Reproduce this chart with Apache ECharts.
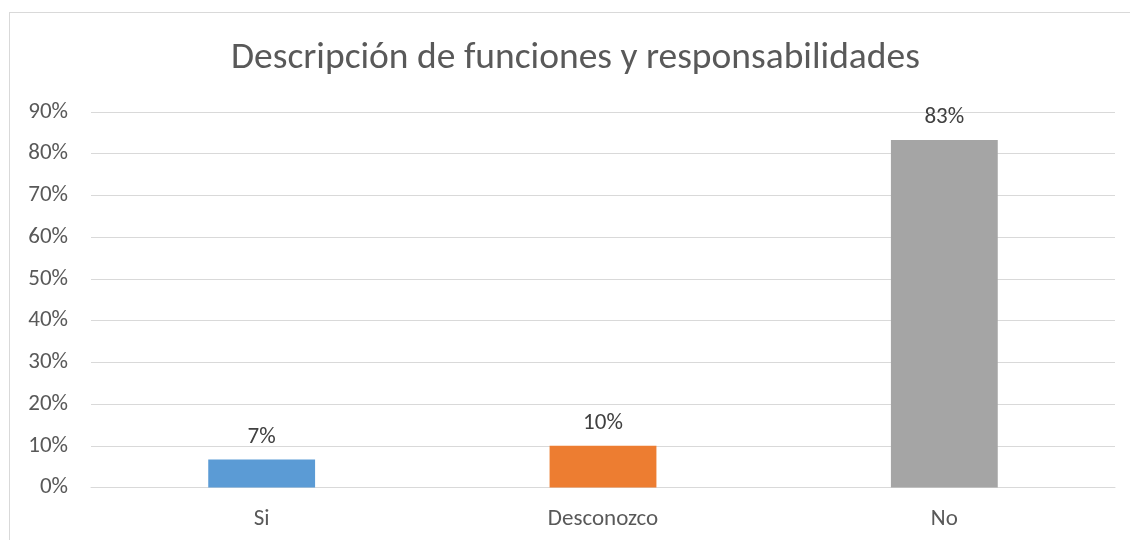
<!DOCTYPE html>
<html>
<head>
<meta charset="utf-8">
<script src="https://cdn.jsdelivr.net/npm/echarts@6/dist/echarts.min.js"></script>
<style>
  html, body { margin: 0; padding: 0; background: #fff; }
  #frame { position: absolute; left: 9px; top: 12px; width: 1140px; height: 560px; border: 1px solid #d9d9d9; }
  #chart { width: 1130px; height: 540px; }
</style>
</head>
<body>
<div id="frame"></div>
<div id="chart"></div>
<script>
// datos
const categories = ['Si', 'Desconozco', 'No']
const values = [0.067, 0.10, 0.833]
const barColors = ['#5b9bd5', '#ed7d31', '#a5a5a5']
const yTicks = [0, 0.1, 0.2, 0.3, 0.4, 0.5, 0.6, 0.7, 0.8, 0.9]

const pct = v => Math.round(v * 100) + '%'
const font = 'Carlito, "Open Sans", "Noto Sans", sans-serif'

const chart = echarts.init(document.getElementById('chart'), null, { renderer: 'canvas' })
chart.setOption({
  animation: false,
  title: {
    text: 'Descripción de funciones y responsabilidades',
    left: 226,
    top: 35,
    textStyle: { fontFamily: font, fontSize: 37.5, fontWeight: 'normal', color: '#595959' },
  },
  grid: { left: 91, right: 15, top: 112, bottom: 52.5 },
  xAxis: {
    type: 'category',
    data: categories,
    axisLine: { lineStyle: { color: '#d9d9d9', width: 1 } },
    axisTick: { show: false },
    axisLabel: { fontFamily: font, fontSize: 23, color: '#595959', margin: 20 },
  },
  yAxis: {
    type: 'value',
    min: yTicks[0],
    max: yTicks[yTicks.length - 1],
    interval: 0.1,
    axisLine: { show: false },
    axisTick: { show: false },
    splitLine: { lineStyle: { color: '#d9d9d9', width: 1 } },
    axisLabel: { fontFamily: font, fontSize: 23, color: '#595959', margin: 23, formatter: pct },
  },
  series: [{
    type: 'bar',
    barWidth: '31.3%',
    data: values.map((v, i) => ({ value: v, itemStyle: { color: barColors[i] } })),
    label: {
      show: true,
      position: 'top',
      distance: 11,
      fontFamily: font,
      fontSize: 23,
      color: '#404040',
      formatter: p => pct(p.value),
    },
  }],
})
</script>
</body>
</html>
